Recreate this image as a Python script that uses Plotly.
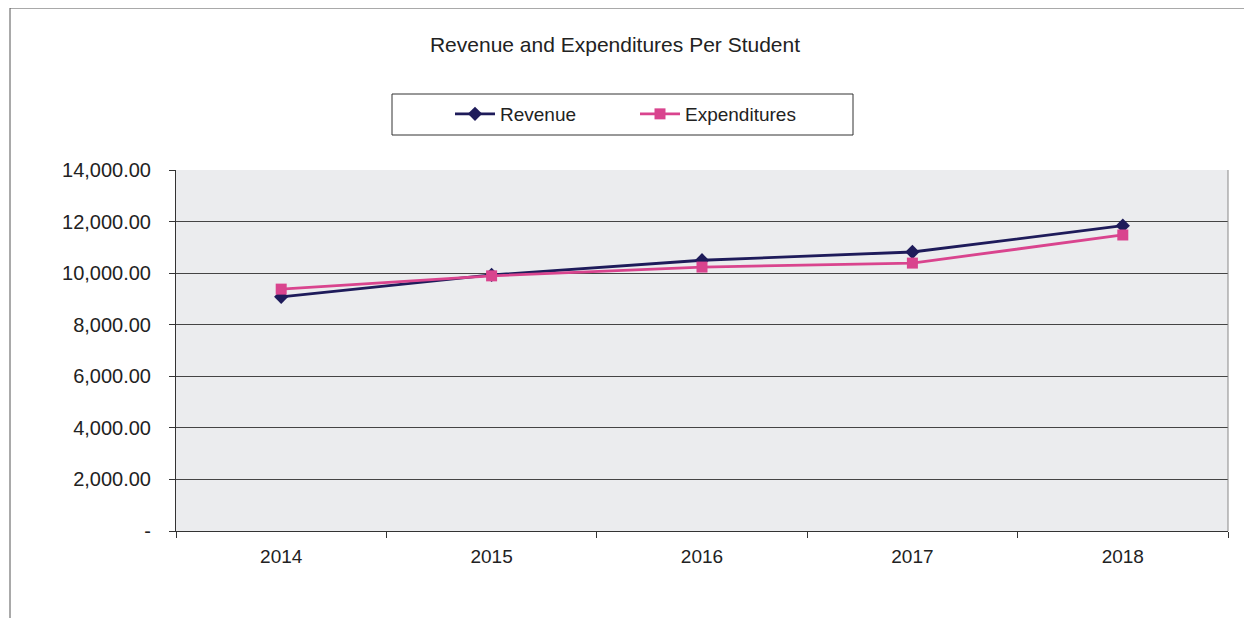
import plotly.graph_objects as go

years = ["2014", "2015", "2016", "2017", "2018"]
revenue = [9080, 9930, 10500, 10820, 11840]
expenditures = [9380, 9895, 10235, 10390, 11480]
y_ticks = [0, 2000, 4000, 6000, 8000, 10000, 12000, 14000]
y_tick_text = ["-" if v == 0 else f"{v:,.2f}" for v in y_ticks]

FONT = "Liberation Sans, Arial, sans-serif"
NAVY = "#1E1B5A"
PINK = "#D9448E"

OFF = 8  # page body margin
W, H = 1252 - OFF, 618 - OFF
L, T = 176 - OFF, 170 - OFF
R = W - (1228 - OFF)
B = H - (531 - OFF)
pw, ph = W - L - R, H - T - B

def px_x(x):
    return (x - OFF - L) / pw

def px_y(y):
    return (H - B - (y - OFF)) / ph

fig = go.Figure()
fig.add_trace(go.Scatter(
    x=years, y=revenue, name="Revenue", mode="lines+markers",
    line=dict(color=NAVY, width=2.8),
    marker=dict(symbol="diamond", size=11, color=NAVY),
))
fig.add_trace(go.Scatter(
    x=years, y=expenditures, name="Expenditures", mode="lines+markers",
    line=dict(color=PINK, width=2.8),
    marker=dict(symbol="square", size=11, color=PINK),
))

fig.update_layout(
    width=W, height=H,
    margin=dict(l=L, r=R, t=T, b=B),
    paper_bgcolor="white",
    plot_bgcolor="#EBECEE",
    font=dict(family=FONT, size=19, color="#222222"),
    title=dict(text="Revenue and Expenditures Per Student",
               x=(615 - OFF) / W, xref="container", xanchor="center",
               y=1 - (45 - OFF) / H, yref="container", yanchor="middle",
               font=dict(size=21, color="#222222")),
    showlegend=True,
    legend=dict(orientation="h", x=px_x(450), xanchor="left",
                y=px_y(114), yanchor="middle",
                bgcolor="rgba(0,0,0,0)", borderwidth=0,
                entrywidth=130, entrywidthmode="pixels",
                font=dict(size=19, color="#222222"),
                itemwidth=40),
    xaxis=dict(type="category", range=[-0.5, 4.5], tickson="boundaries",
               ticks="outside", ticklen=6, tickcolor="#333333", showgrid=False,
               showline=True, linecolor="#333333", linewidth=1,
               ticklabelstandoff=8,
               mirror=False, tickfont=dict(size=19)),
    yaxis=dict(range=[0, 14000], tickvals=y_ticks, ticktext=y_tick_text,
               ticks="outside", ticklen=6, tickcolor="#333333",
               showgrid=True, gridcolor="#444444", gridwidth=1,
               showline=True, linecolor="#333333", linewidth=1,
               ticklabelstandoff=14,
               zeroline=False, tickfont=dict(size=20)),
    shapes=[
        dict(type="line", xref="paper", yref="paper", x0=1, x1=1, y0=0, y1=1,
             line=dict(color="#888888", width=1)),
        dict(type="rect", xref="paper", yref="paper",
             x0=px_x(392), x1=px_x(853), y0=px_y(135), y1=px_y(94),
             line=dict(color="#333333", width=1), fillcolor="rgba(0,0,0,0)"),
        dict(type="line", xref="paper", yref="paper",
             x0=px_x(10), x1=px_x(10), y0=px_y(640), y1=px_y(8),
             line=dict(color="#555555", width=1)),
        dict(type="line", xref="paper", yref="paper",
             x0=px_x(10), x1=px_x(1260), y0=px_y(8), y1=px_y(8),
             line=dict(color="#555555", width=1)),
    ],
)

fig.write_html("out.html")
